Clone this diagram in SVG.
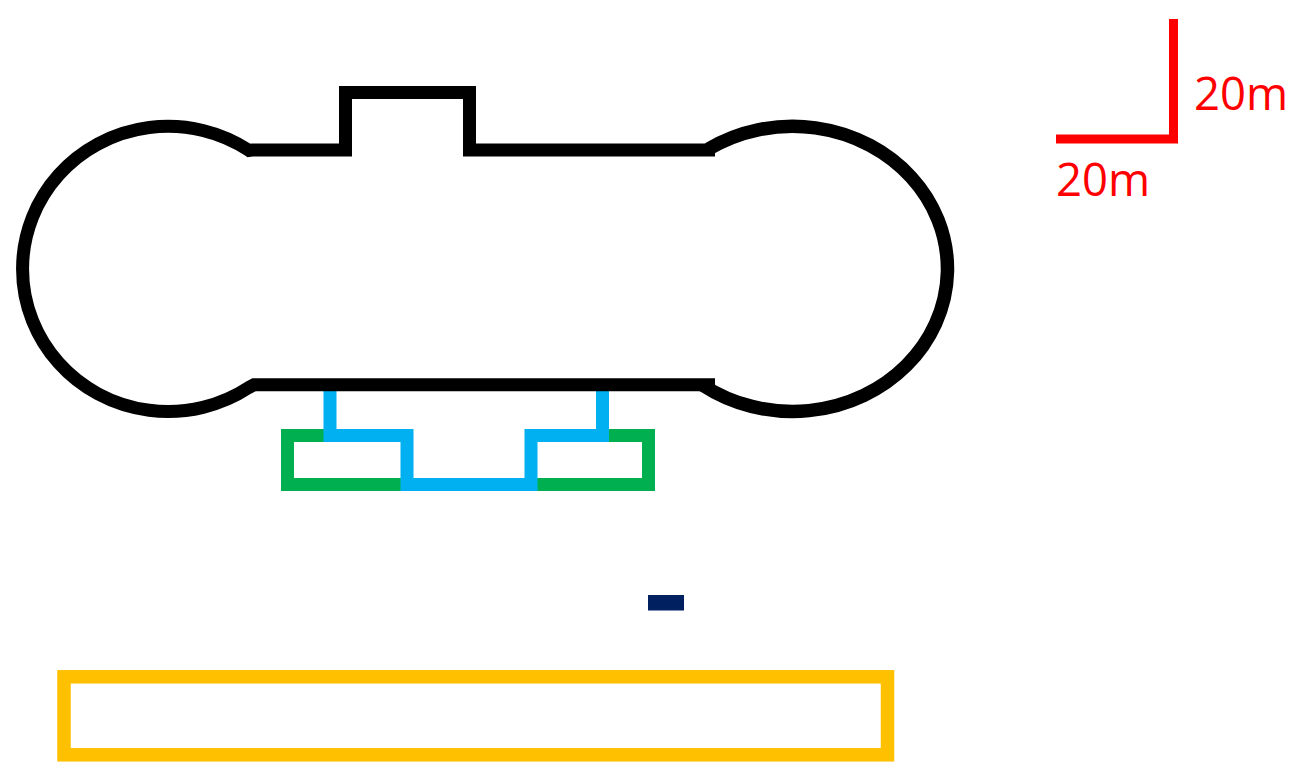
<svg xmlns="http://www.w3.org/2000/svg" width="1304" height="780" viewBox="0 0 1304 780">
<style>
.l{fill:none;stroke-linejoin:miter;stroke-linecap:butt}
.t{fill:#ff0000;font-family:"Open Sans",sans-serif;font-size:45.5px}
</style>
<rect width="1304" height="780" fill="#ffffff"/>
<g id="green-outline"><path class="l" stroke="#00B050" stroke-width="13" d="M330 435.500H287.500V484.500H407M531 484.500H648.500V435.500H602"/></g>
<g id="blue-outline"><path class="l" stroke="#00B0F0" stroke-width="13" d="M330 391V435.500H407V484.500H531V435.500H602.500V391"/></g>
<g id="main-outline">
<path class="l" stroke="#000000" stroke-width="13" d="M715 150H469.500V92.500H345.500V150H252L249 150.400A145.500 142.600 0 1 0 249 387.400L254 384.800H715"/>
<path class="l" stroke="#000000" stroke-width="13.500" d="M708.500 149A155 142.600 0 1 1 703 385.300"/>
</g>
<g id="navy-bar"><rect x="648" y="595" width="36" height="15.500" fill="#002060"/></g>
<g id="yellow-box"><rect class="l" x="64" y="676.800" width="823.500" height="78" stroke="#FFC000" stroke-width="13.500"/></g>
<g id="scale"><path class="l" stroke="#ff0000" stroke-width="9" d="M1056 139H1173.500V19"/>
<text class="t" x="1194" y="110">20m</text>
<text class="t" x="1056" y="196">20m</text></g>
</svg>
